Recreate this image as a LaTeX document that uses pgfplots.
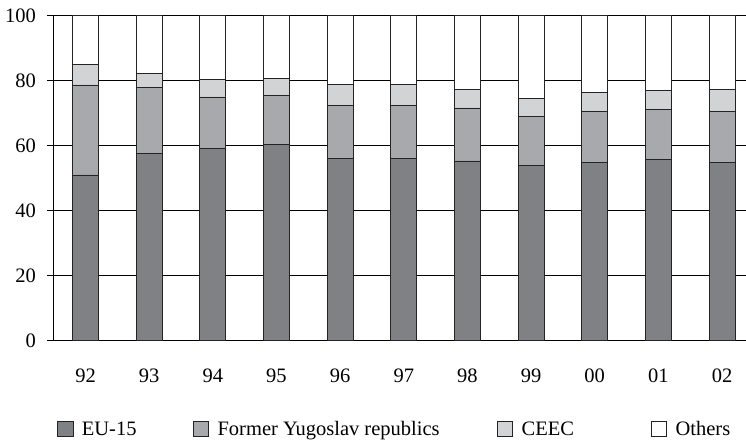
\documentclass[border=0pt]{standalone}
\usepackage{pgfplots}
\pgfplotsset{compat=1.18}
\usepackage{fontspec}
\setmainfont{Liberation Serif}
\definecolor{cEU}{RGB}{128,129,133}
\definecolor{cFY}{RGB}{168,169,173}
\definecolor{cCE}{RGB}{210,211,213}
\definecolor{cBd}{RGB}{35,35,35}
\begin{document}
\fontsize{20.5bp}{24bp}\selectfont
\begin{tikzpicture}
\begin{axis}[
  scale only axis, width=693bp, height=325bp,
  xmin=-0.511, xmax=10.377, ymin=0, ymax=100,
  ybar stacked, bar width=26bp,
  axis lines*=left,
  axis line style={black, line width=0.8bp},
  ytick={0,20,40,60,80,100},
  ymajorgrids, grid style={black, line width=0.7bp},
  xtick={0,1,2,3,4,5,6,7,8,9,10},
  xticklabels={92,93,94,95,96,97,98,99,00,01,02},
  xtick style={draw=none},
  ytick style={black, line width=0.8bp},
  tick align=outside, major tick length=6bp,
  ytick pos=left, xtick pos=bottom,
  yticklabel style={inner xsep=11bp},
  xticklabel style={yshift=-15bp},
  /pgf/number format/assume math mode=true,
  every axis plot/.append style={draw=cBd, line width=0.7bp},
  legend columns=4,
  legend style={draw=none, fill=none, inner sep=0pt, nodes={inner sep=0pt},
    at={(rel axis cs:0.00577,-0.2742)}, anchor=west,
    /tikz/every odd column/.append style={column sep=8.5bp},
    /tikz/every even column/.append style={column sep=0bp}},
  legend image code/.code={\draw[#1] (0bp,-6.5bp) rectangle (15.5bp,9bp);},
]
\addplot[fill=cEU] coordinates {(0,51.0) (1,57.6) (2,59.1) (3,60.5) (4,56.2) (5,56.2) (6,55.3) (7,53.8) (8,54.8) (9,55.8) (10,54.8)};
\addplot[fill=cFY] coordinates {(0,27.7) (1,20.2) (2,15.9) (3,14.9) (4,16.3) (5,16.2) (6,16.3) (7,15.3) (8,15.8) (9,15.3) (10,15.8)};
\addplot[fill=cCE] coordinates {(0,6.3) (1,4.4) (2,5.3) (3,5.2) (4,6.3) (5,6.4) (6,5.7) (7,5.4) (8,5.7) (9,5.8) (10,6.7)};
\addplot[fill=white] coordinates {(0,15.0) (1,17.8) (2,19.7) (3,19.4) (4,21.2) (5,21.2) (6,22.7) (7,25.5) (8,23.7) (9,23.1) (10,22.7)};
\legend{\makebox[111bp][l]{EU-15}, \makebox[279.3bp][l]{Former Yugoslav republics}, \makebox[129.3bp][l]{CEEC}, Others}
\coordinate (O) at (rel axis cs:0,0);
\end{axis}
\pgfresetboundingbox
\path[use as bounding box] ([xshift=-53bp,yshift=-99.3bp]O) rectangle ++(746bp,440bp);
\end{tikzpicture}
\end{document}
